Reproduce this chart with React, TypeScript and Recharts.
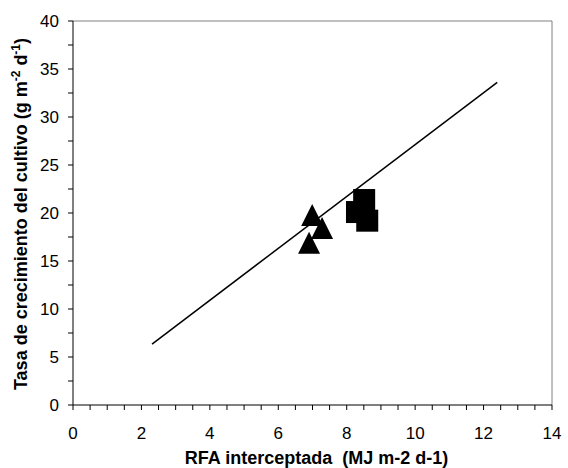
import React from "react";
import { ScatterChart, Scatter, XAxis, YAxis, ReferenceLine } from "recharts";

// symbols
const triangles = [
  { x: 6.99, y: 19.8 },
  { x: 7.28, y: 18.45 },
  { x: 6.9, y: 16.9 },
];
const squares = [
  { x: 8.51, y: 21.35 },
  { x: 8.3, y: 20.1 },
  { x: 8.6, y: 19.2 },
];
// fitted line end points
const fitLine = [
  { x: 2.31, y: 6.35 },
  { x: 12.4, y: 33.6 },
];

const xTicks = [0, 0.5, 1, 1.5, 2, 2.5, 3, 3.5, 4, 4.5, 5, 5.5, 6, 6.5, 7, 7.5, 8, 8.5, 9, 9.5, 10, 10.5, 11, 11.5, 12, 12.5, 13, 13.5, 14];
const xLabels = [0, 2, 4, 6, 8, 10, 12, 14];
const yTicks = [0, 2.5, 5, 7.5, 10, 12.5, 15, 17.5, 20, 22.5, 25, 27.5, 30, 32.5, 35, 37.5, 40];
const yLabels = [0, 5, 10, 15, 20, 25, 30, 35, 40];

const FONT = '"Liberation Sans", Arial, sans-serif';

const XTick = (props: any) => {
  const { x, y, payload } = props;
  const v = payload.value;
  return (
    <g>
      <line x1={x} y1={y} x2={x} y2={y + 5} stroke="#000" />
      {xLabels.includes(v) && (
        <text x={x} y={y + 34} textAnchor="middle" fontSize={17} fontFamily={FONT} fill="#000">
          {v}
        </text>
      )}
    </g>
  );
};

const YTick = (props: any) => {
  const { x, y, payload } = props;
  const v = payload.value;
  return (
    <g>
      <line x1={x} y1={y} x2={x - 5} y2={y} stroke="#000" />
      {yLabels.includes(v) && (
        <text x={x - 14} y={y + 6} textAnchor="end" fontSize={17} fontFamily={FONT} fill="#000">
          {v}
        </text>
      )}
    </g>
  );
};

const YTitle = (props: any) => {
  const { viewBox } = props;
  const cx = viewBox.x + 27;
  const cy = viewBox.y + viewBox.height / 2 + 1;
  return (
    <text
      x={cx}
      y={cy}
      transform={`rotate(-90, ${cx}, ${cy})`}
      textAnchor="middle"
      fontSize={18}
      fontWeight="bold"
      fontFamily={FONT}
      fill="#000"
    >
      Tasa de crecimiento del cultivo (g m
      <tspan fontSize={12} dy={-7}>-2</tspan>
      <tspan dy={7}> d</tspan>
      <tspan fontSize={12} dy={-7}>-1</tspan>
      <tspan dy={7}>)</tspan>
    </text>
  );
};

const XTitle = (props: any) => {
  const { viewBox } = props;
  return (
    <text
      x={viewBox.x + viewBox.width / 2 + 4}
      y={viewBox.y + 58.5}
      textAnchor="middle"
      fontSize={18}
      fontWeight="bold"
      fontFamily={FONT}
      fill="#000"
      style={{ whiteSpace: "pre" }}
    >
      RFA interceptada  (MJ m-2 d-1)
    </text>
  );
};

const Triangle = (props: any) => {
  const { cx, cy } = props;
  return <path d={`M${cx},${cy - 11}L${cx + 11},${cy + 11}L${cx - 11},${cy + 11}Z`} fill="#000" />;
};

const Square = (props: any) => {
  const { cx, cy } = props;
  return <rect x={cx - 11} y={cy - 11} width={22} height={22} fill="#000" />;
};

const App = () => {
  return (
    <div style={{ position: "absolute", left: 0, top: 0, background: "#fff" }}>
      <ScatterChart width={568} height={468} margin={{ top: 21, right: 16, bottom: 0, left: 0 }}>
        <XAxis
          type="number"
          dataKey="x"
          domain={[0, 14]}
          ticks={xTicks}
          interval={0}
          tickSize={0}
          tickMargin={0}
          tickLine={false}
          tick={<XTick />}
          height={63}
          stroke="#000"
          label={<XTitle />}
        />
        <YAxis
          type="number"
          dataKey="y"
          domain={[0, 40]}
          ticks={yTicks}
          interval={0}
          tickSize={0}
          tickMargin={0}
          tickLine={false}
          tick={<YTick />}
          width={73}
          stroke="#000"
          label={<YTitle />}
        />
        <ReferenceLine y={40} stroke="#808080" />
        <ReferenceLine x={14} stroke="#808080" />
        <Scatter
          data={fitLine}
          line={{ stroke: "#000", strokeWidth: 1.5 }}
          shape={() => <g />}
          isAnimationActive={false}
        />
        <Scatter data={triangles} shape={<Triangle />} isAnimationActive={false} />
        <Scatter data={squares} shape={<Square />} isAnimationActive={false} />
      </ScatterChart>
    </div>
  );
};

export default App;
